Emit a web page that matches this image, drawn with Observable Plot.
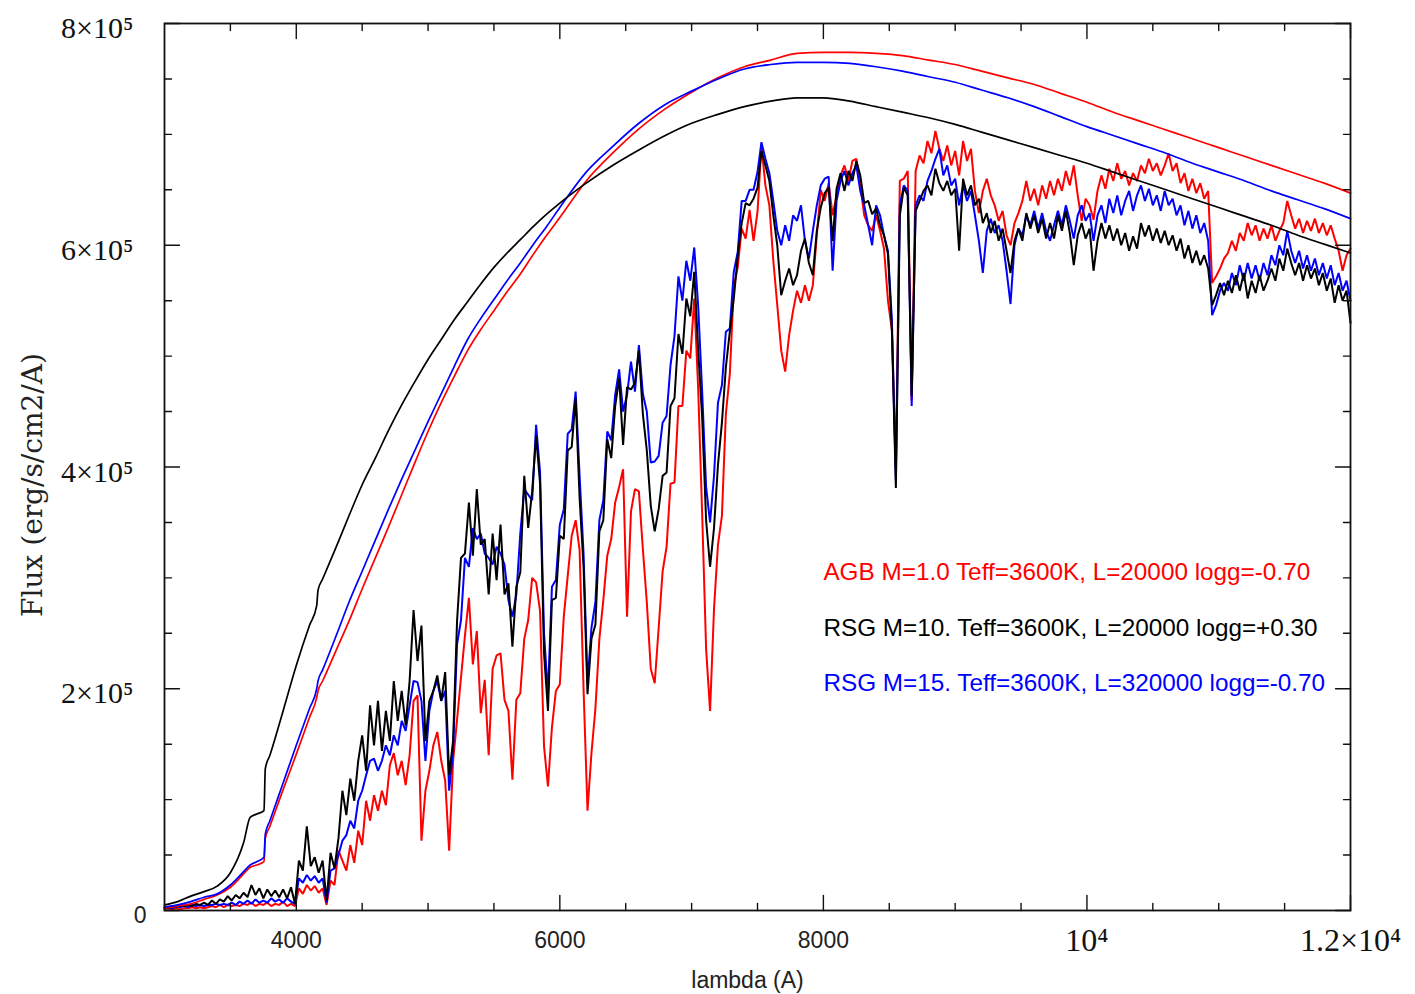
<!DOCTYPE html>
<html>
<head>
<meta charset="utf-8">
<script src="https://cdn.jsdelivr.net/npm/d3@7"></script>
<script src="https://cdn.jsdelivr.net/npm/@observablehq/plot@0.6"></script>
<style>
  body { margin: 0; background: #fff; }
  g[aria-label="y-title"] text { letter-spacing: 9.5px; }
</style>
</head>
<body>
<div id="chart"></div>
<script>
// Synthetic spectra sampled every 30 Å between 3000 and 12000 Å.
// Flux values are in units of 10^3 erg/s/cm2/A.
const wavelength = d3.range(3000, 12001, 30);

const fluxAGB = [
  1, 2, 1, 2, 1, 2, 2, 3, 2, 3,
  2, 3, 4, 3, 5, 3, 5, 4, 5, 4,
  6, 5, 7, 4, 6, 5, 7, 4, 6, 5,
  8, 4, 6, 4, 20, 15, 23, 18, 22, 16,
  20, 5, 27, 23, 54, 45, 36, 59, 43, 72,
  59, 99, 81, 104, 90, 108, 95, 131, 142, 122,
  135, 113, 140, 189, 194, 63, 108, 126, 149, 161,
  135, 117, 54, 135, 172, 210, 248, 282, 222, 252,
  178, 208, 140, 218, 230, 232, 190, 180, 118, 190,
  196, 245, 262, 300, 296, 270, 148, 112, 165, 198,
  204, 265, 302, 338, 352, 325, 200, 90, 142, 182,
  245, 280, 320, 335, 368, 382, 398, 265, 360, 380,
  378, 326, 278, 218, 205, 255, 306, 328, 385, 386,
  455, 455, 505, 498, 552, 470, 358, 236, 180, 272,
  330, 356, 448, 484, 562, 580, 615, 606, 632, 604,
  630, 690, 654, 636, 586, 546, 505, 486, 519, 541,
  559, 548, 564, 550, 564, 609, 650, 640, 656, 627,
  645, 663, 672, 658, 676, 678, 654, 627, 618, 613,
  627, 613, 597, 550, 523, 397, 658, 660, 667, 460,
  667, 681, 674, 694, 683, 703, 687, 676, 690, 672,
  685, 663, 694, 676, 687, 649, 629, 649, 660, 645,
  636, 622, 631, 609, 600, 620, 629, 640, 658, 640,
  651, 636, 654, 642, 658, 645, 660, 649, 667, 654,
  672, 645, 622, 642, 636, 623, 649, 663, 651, 669,
  658, 674, 660, 667, 654, 665, 658, 672, 665, 678,
  667, 674, 663, 672, 683, 667, 674, 656, 665, 649,
  660, 647, 656, 642, 649, 566, 572, 579, 588, 593,
  604, 595, 611, 604, 620, 609, 618, 604, 615, 606,
  618, 604, 613, 620, 640, 627, 615, 624, 611, 622,
  613, 624, 611, 620, 609, 618, 606, 595, 577, 591,
  597
];

const fluxRSG10 = [
  3, 2, 4, 3, 5, 4, 5, 4, 6, 5,
  7, 5, 9, 6, 10, 8, 13, 9, 14, 11,
  16, 12, 23, 14, 20, 11, 19, 13, 18, 12,
  19, 11, 21, 6, 45, 36, 76, 40, 48, 34,
  45, 9, 52, 38, 65, 108, 86, 119, 99, 135,
  158, 126, 185, 149, 189, 144, 180, 153, 207, 171,
  198, 167, 207, 271, 225, 257, 153, 189, 198, 212,
  189, 215, 122, 153, 261, 318, 322, 368, 320, 380,
  330, 335, 285, 340, 298, 348, 285, 295, 238, 292,
  305, 392, 345, 378, 428, 385, 232, 180, 280, 282,
  338, 335, 415, 418, 462, 372, 310, 195, 245, 258,
  342, 352, 425, 408, 455, 480, 420, 472, 470, 476,
  505, 448, 415, 365, 342, 362, 392, 395, 455, 462,
  520, 502, 552, 536, 576, 505, 445, 352, 310, 345,
  402, 440, 490, 522, 552, 590, 620, 638, 636, 642,
  652, 685, 672, 658, 627, 600, 555, 568, 579, 564,
  573, 595, 606, 584, 573, 613, 634, 647, 652, 604,
  651, 665, 649, 667, 658, 676, 663, 638, 640, 628,
  633, 618, 609, 592, 523, 381, 627, 652, 645, 464,
  631, 640, 649, 654, 645, 669, 656, 649, 658, 645,
  651, 595, 660, 645, 654, 636, 642, 620, 629, 611,
  622, 604, 615, 595, 575, 604, 615, 604, 629, 615,
  627, 611, 624, 606, 620, 606, 627, 613, 631, 611,
  582, 609, 620, 606, 615, 577, 604, 620, 606, 618,
  604, 615, 600, 611, 595, 608, 597, 620, 608, 618,
  604, 615, 602, 613, 600, 609, 595, 606, 588, 600,
  584, 595, 582, 591, 579, 546, 555, 566, 555, 568,
  557, 573, 559, 575, 552, 568, 557, 573, 559, 568,
  579, 568, 588, 577, 597, 584, 573, 584, 568, 582,
  570, 579, 564, 575, 559, 570, 548, 564, 550, 559,
  530
];

const fluxRSG15 = [
  2, 3, 2, 4, 3, 4, 3, 5, 4, 5,
  4, 5, 5, 6, 5, 6, 5, 7, 5, 8,
  6, 9, 6, 10, 7, 9, 7, 11, 8, 10,
  7, 11, 8, 6, 29, 25, 32, 27, 31, 25,
  29, 7, 36, 38, 50, 63, 68, 81, 74, 99,
  108, 122, 135, 137, 126, 135, 149, 140, 158, 149,
  171, 162, 185, 207, 206, 189, 135, 180, 198, 207,
  189, 198, 108, 144, 240, 262, 318, 310, 345, 335,
  340, 322, 318, 312, 328, 322, 312, 280, 265, 285,
  340, 380, 375, 370, 438, 395, 250, 195, 292, 298,
  348, 362, 430, 434, 468, 392, 322, 205, 255, 278,
  352, 370, 432, 424, 465, 488, 450, 465, 495, 468,
  510, 466, 450, 404, 405, 410, 440, 446, 492, 518,
  572, 550, 586, 568, 598, 545, 468, 382, 350, 392,
  458, 474, 522, 525, 576, 594, 640, 640, 650, 650,
  666, 693, 678, 665, 640, 613, 600, 618, 604, 627,
  622, 636, 604, 588, 613, 636, 654, 660, 662, 577,
  640, 658, 667, 654, 665, 672, 649, 636, 618, 600,
  636, 627, 609, 595, 532, 388, 636, 654, 649, 455,
  636, 645, 640, 658, 667, 678, 687, 663, 672, 654,
  660, 636, 654, 640, 649, 627, 604, 575, 613, 624,
  611, 618, 604, 577, 547, 600, 615, 609, 627, 618,
  631, 615, 629, 613, 604, 618, 631, 618, 636, 622,
  606, 627, 636, 622, 629, 604, 627, 636, 620, 642,
  629, 645, 627, 640, 649, 631, 645, 654, 640, 651,
  636, 645, 631, 649, 636, 642, 627, 636, 618, 631,
  615, 627, 611, 620, 604, 537, 546, 559, 566, 559,
  575, 564, 582, 568, 584, 570, 582, 568, 584, 573,
  591, 582, 600, 591, 613, 595, 584, 595, 579, 591,
  577, 588, 573, 584, 570, 582, 564, 575, 559, 568,
  550
];

// Smooth continua (same flux units), with the two small jumps near 3760 and 4160 Å.
const contWavelength = [
  3000, 3100, 3200, 3300, 3400, 3500, 3600, 3650, 3700, 3755, 3765, 3800, 3900,
  4000, 4100, 4155, 4165, 4200, 4300, 4400, 4500, 4600, 4700, 4800, 4900,
  5000, 5100, 5200, 5300, 5400, 5500, 5600, 5700, 5800, 5900, 6000,
  6200, 6400, 6600, 6800, 7000, 7200, 7400, 7600, 7800, 8000,
  8200, 8400, 8600, 8800, 9000, 9200, 9400, 9600, 9800, 10000,
  10200, 10400, 10600, 10800, 11000, 11200, 11400, 11600, 11800, 12000
];
const contAGB = [
  2, 4, 6, 10, 14, 21, 33, 39, 41, 44, 65, 76, 109,
  141, 174, 192, 198, 207, 234, 261, 290, 318, 346, 375, 404,
  432, 458, 482, 505, 524, 541, 558, 574, 592, 609, 625,
  658, 683, 705, 723, 738, 751, 761, 767, 773, 774,
  774, 773, 771, 767, 763, 757, 751, 745, 737, 729,
  720, 712, 704, 696, 688, 680, 672, 664, 656, 647
];
const contRSG10 = [
  5, 8, 13, 17, 22, 34, 61, 84, 87, 90, 128, 140, 180,
  221, 257, 275, 289, 299, 327, 356, 384, 408, 433, 456, 477,
  497, 515, 533, 549, 565, 580, 593, 605, 617, 628, 638,
  656, 672, 686, 699, 710, 718, 725, 730, 733, 733,
  730, 725, 720, 715, 709, 702, 695, 688, 681, 674,
  666, 658, 650, 642, 634, 626, 618, 609, 601, 593
];
const contRSG15 = [
  3, 5, 8, 12, 15, 23, 35, 41, 44, 48, 69, 81, 115,
  149, 182, 200, 207, 217, 247, 278, 306, 334, 362, 389, 415,
  441, 466, 491, 515, 534, 551, 568, 584, 601, 617, 634,
  666, 689, 710, 727, 739, 750, 759, 763, 765, 765,
  764, 761, 757, 752, 747, 740, 733, 725, 716, 707,
  699, 691, 683, 674, 666, 658, 649, 641, 633, 624
];

const modelNames = [
  "AGB M=1.0 Teff=3600K, L=20000 logg=-0.70",
  "RSG M=10. Teff=3600K, L=20000 logg=+0.30",
  "RSG M=15. Teff=3600K, L=320000 logg=-0.70"
];
const modelColors = ["#ff0000", "#000000", "#0000ff"];

const xMajorTicks = [4000, 6000, 8000, 10000, 12000];
const xMajorLabels = ["4000", "6000", "8000", "10\u2074", "1.2\u00d710\u2074"];
const xMinorTicks = [3500, 4500, 5000, 5500, 6500, 7000, 7500, 8500, 9000, 9500, 10500, 11000, 11500];
const yMajorTicks = [0, 200, 400, 600, 800];
const yMajorLabels = ["0", "2\u00d710\u2075", "4\u00d710\u2075", "6\u00d710\u2075", "8\u00d710\u2075"];
const yMinorTicks = [50, 100, 150, 250, 300, 350, 450, 500, 550, 650, 700, 750];

const spectra = [fluxAGB, fluxRSG10, fluxRSG15];
const continua = [contAGB, contRSG10, contRSG15];

// Draw order: AGB first, then the M=15 RSG, then the M=10 RSG on top.
const drawOrder = [0, 2, 1];
const spectrumRows = drawOrder.flatMap(k =>
  wavelength.map((w, i) => ({model: k, wavelength: w, flux: spectra[k][i]})));
const continuumRows = drawOrder.flatMap(k =>
  contWavelength.map((w, i) => ({model: k, wavelength: w, flux: continua[k][i]})));

// A plain stroke used for the inward-pointing tick marks.
const tickShape = {draw(context, l) { context.moveTo(0, 0); context.lineTo(0, -l); }};
const tickStyle = {anchor: "start", shape: tickShape, stroke: "#111", strokeWidth: 1.4};

const serif = "'Liberation Serif', 'DejaVu Serif', serif";
const wideSerif = "'DejaVu Serif', serif";
const sans = "'Liberation Sans', Arial, sans-serif";

const chart = Plot.plot({
  width: 1415,
  height: 994,
  marginLeft: 164,
  marginRight: 65,
  marginTop: 23,
  marginBottom: 84,
  style: {background: "#fff"},
  x: {domain: [3000, 12000], axis: null},
  y: {domain: [0, 800], axis: null},
  marks: [
    Plot.line(spectrumRows, {
      x: "wavelength", y: "flux", z: "model",
      stroke: d => modelColors[d.model], strokeWidth: 2, strokeLinejoin: "miter"
    }),
    Plot.line(continuumRows, {
      x: "wavelength", y: "flux", z: "model", curve: "monotone-x",
      stroke: d => modelColors[d.model], strokeWidth: 1.7
    }),

    // ticks on all four sides, pointing into the frame
    Plot.vector(xMajorTicks, {x: d => d, y: () => 0, length: 15, rotate: 0, ...tickStyle}),
    Plot.vector(xMinorTicks, {x: d => d, y: () => 0, length: 7, rotate: 0, ...tickStyle}),
    Plot.vector(xMajorTicks, {x: d => d, y: () => 800, length: 15, rotate: 180, ...tickStyle}),
    Plot.vector(xMinorTicks, {x: d => d, y: () => 800, length: 7, rotate: 180, ...tickStyle}),
    Plot.vector(yMajorTicks, {x: () => 3000, y: d => d, length: 15, rotate: 90, ...tickStyle}),
    Plot.vector(yMinorTicks, {x: () => 3000, y: d => d, length: 7, rotate: 90, ...tickStyle}),
    Plot.vector(yMajorTicks, {x: () => 12000, y: d => d, length: 15, rotate: -90, ...tickStyle}),
    Plot.vector(yMinorTicks, {x: () => 12000, y: d => d, length: 7, rotate: -90, ...tickStyle}),
    Plot.frame({stroke: "#111", strokeWidth: 1.8}),

    // tick labels
    Plot.text(xMajorTicks.slice(0, 3), {
      x: d => d, y: () => 0, text: (d, i) => xMajorLabels[i], dy: 30,
      fontFamily: sans, fontSize: 23, fill: "#222"
    }),
    Plot.text(xMajorTicks.slice(3), {
      x: d => d, y: () => 0, text: (d, i) => xMajorLabels[i + 3], dy: 30,
      fontFamily: serif, fontSize: 32, fill: "#111"
    }),
    Plot.text(yMajorTicks.slice(0, 1), {
      x: () => 3000, y: d => d, text: (d, i) => yMajorLabels[i], dx: -18, dy: 5,
      textAnchor: "end", fontFamily: sans, fontSize: 23, fill: "#222"
    }),
    Plot.text(yMajorTicks.slice(1), {
      x: () => 3000, y: d => d, text: (d, i) => yMajorLabels[i + 1], dx: -31, dy: 5,
      textAnchor: "end", fontFamily: serif, fontSize: 30, fill: "#111"
    }),

    // axis titles
    Plot.text(["Flux (erg/s/cm2/A)"], {
      frameAnchor: "left", dx: -131, dy: 18, rotate: -90, text: d => d,
      textAnchor: "middle", lineAnchor: "middle",
      fontFamily: wideSerif, fontSize: 28, fill: "#222", ariaLabel: "y-title"
    }),
    Plot.text(["lambda (A)"], {
      frameAnchor: "bottom", dx: -10, dy: 70, text: d => d, lineAnchor: "middle",
      fontFamily: sans, fontSize: 23, fill: "#222"
    }),

    // model descriptions
    Plot.text(modelNames, {
      x: () => 8000, y: (d, i) => 305 - 50 * i, text: d => d,
      fill: (d, i) => modelColors[i], textAnchor: "start",
      fontFamily: sans, fontSize: 24.3
    })
  ]
});

document.getElementById("chart").appendChild(chart);
</script>
</body>
</html>
